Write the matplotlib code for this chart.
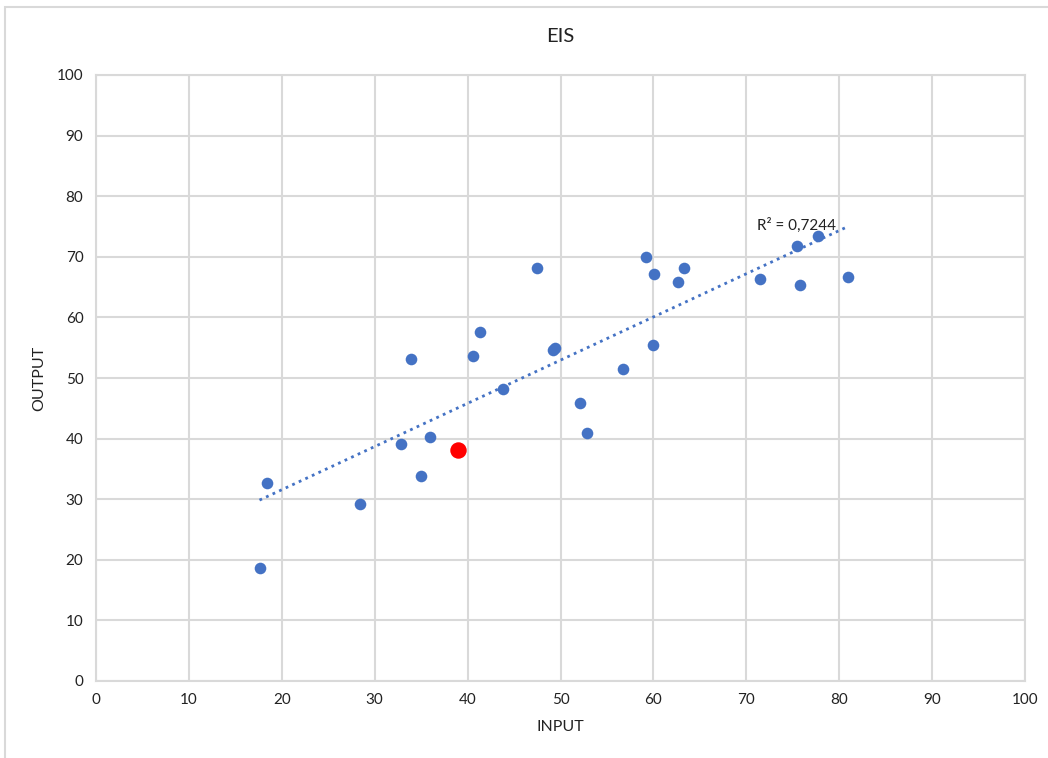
import matplotlib.pyplot as plt
import numpy as np
from matplotlib.patches import Rectangle

# data
input_vals = [17.6, 18.4, 28.4, 32.8, 33.9, 35.0, 35.95, 40.6, 41.35, 43.8,
              47.5, 49.2, 49.4, 52.1, 52.8, 56.7, 59.2, 60.0, 60.1, 62.6,
              63.3, 71.5, 75.5, 75.8, 77.7, 81.0]
output_vals = [18.6, 32.6, 29.2, 39.1, 53.2, 33.8, 40.3, 53.6, 57.6, 48.2,
               68.1, 54.7, 54.9, 45.8, 41.0, 51.5, 70.0, 55.5, 67.2, 65.9,
               68.1, 66.4, 71.8, 65.3, 73.4, 66.6]
highlight = (39.0, 38.2)
r2_label = 'R² = 0,7244'
ticks = list(range(0, 101, 10))

blue = '#4472C4'
grid_c = '#d9d9d9'

plt.rcParams['font.family'] = ['Lato', 'DejaVu Sans']

fig = plt.figure(figsize=(10.48, 7.58), dpi=100)
fig.patches.append(Rectangle((5 / 1048, -0.1), 1.2, 1 - 7 / 758 + 0.1,
                             transform=fig.transFigure, fill=False,
                             edgecolor=grid_c, lw=1.5))
ax = fig.add_axes([96 / 1048, 1 - 681 / 758, (1025 - 96) / 1048, (681 - 75) / 758])

ax.set_xlim(0, 100)
ax.set_ylim(0, 100)
ax.set_xticks(ticks)
ax.set_yticks(ticks)
ax.grid(True, color=grid_c, lw=1.5)
ax.set_axisbelow(True)
for side in ['top', 'right', 'left', 'bottom']:
    ax.spines[side].set_color(grid_c)
    ax.spines[side].set_linewidth(1.5)
ax.tick_params(length=0, labelsize=11, colors='#222222', pad=9)

# linear trend line
x = np.array(input_vals)
y = np.array(output_vals)
slope, intercept = np.polyfit(x, y, 1)
xs = np.array([x.min(), x.max()])
ax.plot(xs, slope * xs + intercept, ls=(0, (1, 1.6)), lw=2, color=blue, zorder=2)

ax.scatter(input_vals, output_vals, s=70, color=blue, zorder=3, linewidths=0)
ax.scatter([highlight[0]], [highlight[1]], s=140, color='#FF0000', zorder=4,
           linewidths=0)

ax.text(71.2, 74.5, r2_label, fontsize=11, color='#222222')

ax.set_title('EIS', fontsize=14.5, pad=24, color='#222222')
ax.set_xlabel('INPUT', fontsize=11.5, labelpad=9, color='#222222')
ax.set_ylabel('OUTPUT', fontsize=11.5, labelpad=8, color='#222222')

plt.savefig('out.png', dpi=100)
